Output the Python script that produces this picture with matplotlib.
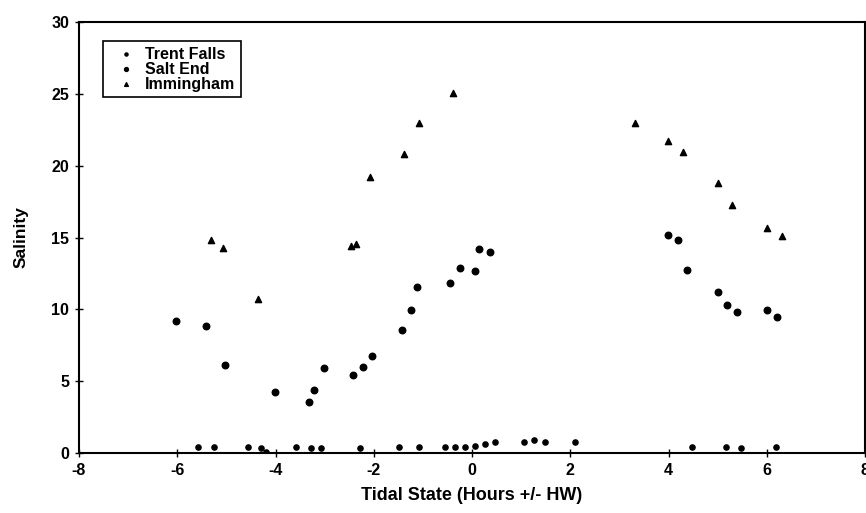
import matplotlib
matplotlib.use('Agg')
import matplotlib.pyplot as plt

plt.rcParams['font.family'] = ['Liberation Sans', 'DejaVu Sans']
plt.rcParams['font.weight'] = 'bold'
plt.rcParams['axes.unicode_minus'] = False

# Trent Falls
trent_x = [-5.58, -5.26, -4.56, -4.29, -4.19, -3.58, -3.27, -3.08, -2.29, -1.49, -1.08,
           -0.54, -0.34, -0.14, 0.07, 0.26, 0.46, 1.06, 1.27, 1.49, 2.09, 4.48, 5.17, 5.47, 6.18]
trent_y = [0.4, 0.4, 0.4, 0.35, 0.05, 0.4, 0.35, 0.35, 0.35, 0.45, 0.4,
           0.4, 0.4, 0.4, 0.5, 0.6, 0.77, 0.8, 0.92, 0.8, 0.8, 0.45, 0.4, 0.35, 0.4]

# Salt End
salt_x = [-6.02, -5.41, -5.02, -4.02, -3.31, -3.22, -3.01, -2.42, -2.22, -2.04, -1.43, -1.24,
          -1.11, -0.44, -0.24, 0.06, 0.15, 0.37, 3.98, 4.19, 4.38, 5.00, 5.19, 5.40, 6.00, 6.21]
salt_y = [9.2, 8.86, 6.16, 4.25, 3.58, 4.39, 5.9, 5.46, 6.02, 6.76, 8.55, 9.92,
          11.53, 11.85, 12.88, 12.65, 14.2, 13.97, 15.18, 14.85, 12.74, 11.18, 10.27, 9.83, 9.92, 9.46]

# Immingham
imm_x = [-5.31, -5.07, -4.35, -2.47, -2.37, -2.08, -1.39, -1.07, -0.38, 3.31, 3.99, 4.30,
         5.01, 5.29, 6.01, 6.32]
imm_y = [14.8, 14.25, 10.72, 14.43, 14.57, 19.2, 20.8, 22.96, 25.08, 22.94, 21.7, 20.97,
         18.78, 17.29, 15.67, 15.11]

xticks = [-8, -6, -4, -2, 0, 2, 4, 6, 8]
yticks = [0, 5, 10, 15, 20, 25, 30]

fig = plt.figure(figsize=(8.66, 5.13), dpi=100)
ax = fig.add_axes([79/866, 60/513, 786/866, 431/513])

ax.scatter(trent_x, trent_y, s=14, marker='o', color='k', label='Trent Falls', zorder=3)
ax.scatter(salt_x, salt_y, s=22, marker='o', color='k', label='Salt End', zorder=3)
ax.scatter(imm_x, imm_y, s=20, marker='^', color='k', label='Immingham', zorder=3)

ax.set_xlim(-8, 8)
ax.set_ylim(0, 30)
ax.set_xticks(xticks)
ax.set_yticks(yticks)
ax.tick_params(direction='inout', length=6, width=1, labelsize=11.5, pad=4)
for s in ax.spines.values():
    s.set_linewidth(1.5)

ax.set_xlabel('Tidal State (Hours +/- HW)', fontsize=13, fontweight='bold', labelpad=7)
ax.set_ylabel('Salinity', fontsize=12.5, fontweight='bold', labelpad=16)

leg = ax.legend(loc='upper left', bbox_to_anchor=(0.03, 0.956), fontsize=11.5,
                frameon=True, fancybox=False, edgecolor='k', framealpha=1,
                borderpad=0.35, labelspacing=0.0, handletextpad=0.1,
                handlelength=2.2, markerscale=0.6, borderaxespad=0)
leg.get_frame().set_linewidth(1.2)

fig.savefig('out.png', dpi=100)
